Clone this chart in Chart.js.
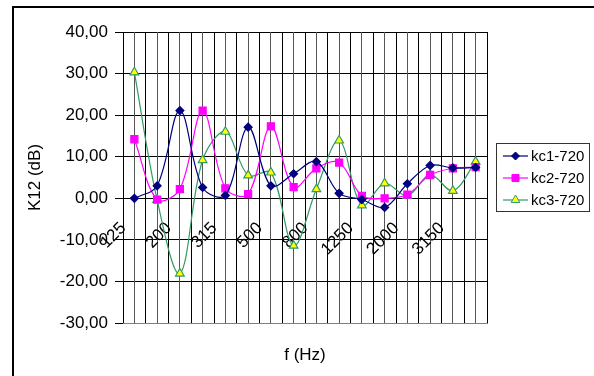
<!DOCTYPE html>
<html>
<head>
<meta charset="utf-8">
<script src="https://cdn.jsdelivr.net/npm/chart.js@4/dist/chart.umd.min.js"></script>
<style>
  html, body { margin: 0; padding: 0; background: #fff; }
  #wrap { width: 594px; height: 376px; position: relative; }
</style>
</head>
<body>
<div id="wrap"><canvas id="c" width="594" height="376"></canvas></div>
<script>
// ---- data ----
const categories = ['125','160','200','250','315','400','500','630','800','1000','1250','1600','2000','2500','3150','4000'];
const kc1 = [0.0, 3.0, 21.1, 2.6, 0.7, 17.1, 3.0, 5.9, 8.8, 1.2, -0.3, -2.2, 3.5, 7.9, 7.3, 7.4];
const kc2 = [14.2, -0.3, 2.2, 21.1, 2.4, 1.0, 17.3, 2.7, 7.2, 8.6, 0.6, 0.0, 0.9, 5.6, 7.2, 7.5];
const kc3 = [30.3, -0.4, -18.1, 9.2, 16.0, 5.5, 6.2, -11.4, 2.2, 13.9, -1.7, 3.6, 0.6, 5.7, 1.8, 8.8];
const seriesNames = ['kc1-720', 'kc2-720', 'kc3-720'];
const yMin = -30, yMax = 40, yStep = 10;
const xTitle = 'f (Hz)';
const yTitle = 'K12 (dB)';

const FONT = "'Liberation Sans', Arial, sans-serif";

const frame = {
  id: 'frame',
  beforeDraw(chart) {
    const ctx = chart.ctx;
    ctx.save();
    ctx.fillStyle = '#fff';
    ctx.fillRect(0, 0, chart.width, chart.height);
    ctx.strokeStyle = '#000';
    ctx.lineWidth = 2;
    ctx.strokeRect(13, 7, 700, 500);
    ctx.restore();
  }
};

function drawMarker(ctx, style, x, y, r, fill, stroke) {
  ctx.beginPath();
  if (style === 'rectRot') {
    ctx.moveTo(x, y - r); ctx.lineTo(x + r, y); ctx.lineTo(x, y + r); ctx.lineTo(x - r, y); ctx.closePath();
  } else if (style === 'rect') {
    const s = r * Math.SQRT1_2;
    ctx.rect(x - s, y - s, 2 * s, 2 * s);
  } else if (style === 'triangle') {
    const h = r * 1.5, side = r * 3 / Math.sqrt(3);
    ctx.moveTo(x - side / 2, y + h / 3);
    ctx.lineTo(x + side / 2, y + h / 3);
    ctx.lineTo(x, y - 2 * h / 3);
    ctx.closePath();
  }
  ctx.fillStyle = fill; ctx.fill();
  ctx.strokeStyle = stroke; ctx.lineWidth = 1; ctx.stroke();
}

const legendBox = {
  id: 'legendBox',
  afterDraw(chart) {
    const ctx = chart.ctx;
    ctx.save();
    ctx.strokeStyle = '#333';
    ctx.lineWidth = 1;
    ctx.strokeRect(496.5, 143.5, 93, 68);
    const rows = [156, 178, 200];
    chart.data.datasets.forEach((ds, i) => {
      const y = rows[i];
      ctx.strokeStyle = ds.borderColor;
      ctx.lineWidth = 1.2;
      ctx.beginPath(); ctx.moveTo(503, y); ctx.lineTo(528, y); ctx.stroke();
      drawMarker(ctx, ds.pointStyle, 515.5, y, ds.pointRadius, ds.pointBackgroundColor, ds.pointBorderColor);
      ctx.fillStyle = '#000';
      ctx.font = '15px ' + FONT;
      ctx.textAlign = 'left';
      ctx.textBaseline = 'middle';
      ctx.fillText(ds.label, 531, y + 1);
    });
    ctx.restore();
  }
};

new Chart(document.getElementById('c'), {
  type: 'line',
  data: {
    labels: categories,
    datasets: [
      { label: seriesNames[0], data: kc1, borderColor: '#000080', borderWidth: 1.2,
        pointStyle: 'rectRot', pointRadius: 4, pointBackgroundColor: '#000080', pointBorderColor: '#000080',
        tension: 0.35, xAxisID: 'x', yAxisID: 'y' },
      { label: seriesNames[1], data: kc2, borderColor: '#FF00FF', borderWidth: 1.2,
        pointStyle: 'rect', pointRadius: 5, pointBackgroundColor: '#FF00FF', pointBorderColor: '#FF00FF',
        tension: 0.35, xAxisID: 'x', yAxisID: 'y' },
      { label: seriesNames[2], data: kc3, borderColor: '#339966', borderWidth: 1.2,
        pointStyle: 'triangle', pointRadius: 5, pointBackgroundColor: '#FFFF00', pointBorderColor: '#339966',
        tension: 0.35, xAxisID: 'x', yAxisID: 'y' }
    ]
  },
  options: {
    responsive: false,
    animation: false,
    devicePixelRatio: 1,
    layout: { padding: { top: 32, right: 107, bottom: 0, left: 0 } },
    plugins: { legend: { display: false }, tooltip: { enabled: false } },
    scales: {
      y: {
        type: 'linear', position: 'left', min: yMin, max: yMax,
        ticks: { stepSize: yStep, padding: 7, color: '#000', font: { family: FONT, size: 17 },
                 callback: v => v.toFixed(2).replace('.', ',') },
        grid: { color: c => (c.tick && c.tick.value === yMin) ? '#808080' : '#000', tickColor: '#000', tickLength: 8, lineWidth: 1 },
        border: { display: true, color: '#000', width: 1 },
        title: { display: true, text: yTitle, color: '#000', font: { family: FONT, size: 17 }, padding: { top: 25, bottom: 0 } },
        afterFit: s => { s.width = 123; }
      },
      x: {
        type: 'category', position: { y: 0 }, offset: true,
        ticks: { autoSkip: false, minRotation: 45, maxRotation: 45, padding: 20, labelOffset: -11,
                 color: '#000', font: { family: FONT, size: 17 },
                 callback: (v, i) => (i % 2 === 0 ? categories[i] : '') },
        grid: { offset: false, color: '#555', drawTicks: false, lineWidth: 1 },
        border: { display: true, color: '#000', width: 1 },
        afterFit: s => { s.height = 0; s.paddingLeft = 0; s.paddingRight = 0; }
      },
      x2: {
        type: 'category', position: 'bottom', offset: true, labels: categories,
        ticks: { display: false },
        grid: { offset: true, drawTicks: false, lineWidth: 1,
                color: c => (c.index === categories.length) ? '#808080' : '#000' },
        border: { display: true, color: '#808080', width: 1 },
        title: { display: true, text: xTitle, color: '#000', font: { family: FONT, size: 17 }, padding: { top: 0, bottom: 10 } },
        afterFit: s => { s.height = 53; s.paddingLeft = 0; s.paddingRight = 0; }
      }
    }
  },
  plugins: [frame, legendBox]
});
</script>
</body>
</html>
